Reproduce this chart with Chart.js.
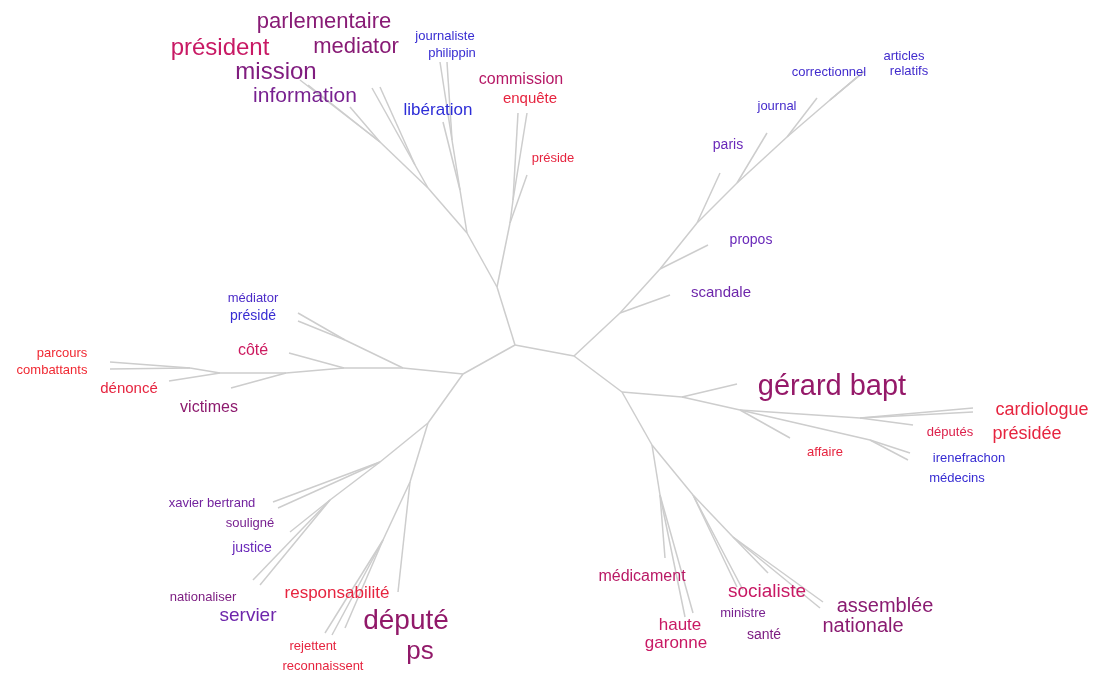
<!DOCTYPE html>
<html>
<head>
<meta charset="utf-8">
<script src="https://cdn.jsdelivr.net/npm/chart.js@4"></script>
<style>
  html, body { margin: 0; padding: 0; background: #fff; }
  #wrap { width: 1098px; height: 677px; }
</style>
</head>
<body>
<div id="wrap"><canvas id="tree"></canvas></div>
<script>
// tree nodes (layout units), parent index -1 = root
const nodeX = [515, 574, 497, 463, 620, 622,
  510, 527, 513, 518, 527, 467, 460, 443, 452, 440, 447, 428, 415, 372, 380, 380, 300, 308, 350,
  403, 345, 298, 298, 344, 289, 286, 231, 220, 169, 190, 110, 110,
  428, 380, 273, 278, 330, 290, 253, 260, 410, 398, 383, 325, 332, 345,
  670, 660, 708, 697, 720, 737, 767, 787, 817, 830, 857, 861, 865,
  682, 737, 740, 790, 870, 910, 908, 860, 913, 973, 973,
  652, 660, 665, 685, 693, 693, 737, 743, 733, 768, 823, 820];
const nodeY = [345, 356, 287, 374, 313, 392,
  223, 175, 200, 113, 113, 233, 190, 122, 140, 62, 62, 188, 165, 88, 87, 142, 80, 85, 107,
  368, 340, 313, 321, 368, 353, 373, 388, 373, 381, 368, 362, 369,
  423, 462, 502, 508, 500, 532, 580, 585, 482, 592, 540, 633, 635, 628,
  295, 269, 245, 223, 173, 183, 133, 137, 98, 100, 77, 74, 71,
  397, 384, 410, 438, 440, 453, 460, 418, 425, 408, 412,
  445, 495, 558, 617, 613, 495, 587, 590, 537, 573, 602, 608];
const nodeParent = [-1, 0, 0, 0, 1, 1,
  2, 6, 6, 8, 8, 2, 11, 12, 12, 14, 14, 11, 17, 18, 18, 17, 21, 21, 21,
  3, 25, 26, 26, 25, 29, 29, 31, 31, 33, 33, 35, 35,
  3, 38, 39, 39, 39, 42, 42, 42, 38, 46, 46, 48, 48, 48,
  4, 4, 53, 53, 55, 55, 57, 57, 59, 59, 61, 61, 61,
  5, 65, 65, 67, 67, 69, 69, 67, 72, 72, 72,
  5, 76, 77, 77, 77, 76, 81, 81, 81, 84, 84, 84];

// words: position, weight (font px) and tone (0 blue .. 1 red)
const words = ["parlementaire", "président", "mediator", "mission", "information",
  "journaliste", "philippin", "libération", "commission", "enquête", "préside",
  "correctionnel", "articles", "relatifs", "journal", "paris", "propos", "scandale",
  "médiator", "présidé", "côté", "parcours", "combattants", "dénoncé", "victimes",
  "xavier bertrand", "souligné", "justice", "nationaliser", "servier", "responsabilité",
  "député", "ps", "rejettent", "reconnaissent",
  "gérard bapt", "cardiologue", "présidée", "députés", "affaire", "irenefrachon", "médecins",
  "médicament", "haute", "garonne", "socialiste", "ministre", "santé", "assemblée", "nationale"];
const wordX = [324, 220, 356, 276, 305,
  445, 452, 438, 521, 530, 553,
  829, 904, 909, 777, 728, 751, 721,
  253, 253, 253, 62, 52, 129, 209,
  212, 250, 252, 203, 248, 337,
  406, 420, 313, 323,
  832, 1042, 1027, 950, 825, 969, 957,
  642, 680, 676, 767, 743, 764, 885, 863];
const wordY = [22, 48, 47, 72, 96,
  36, 53, 110, 80, 99, 158,
  72, 56, 71, 106, 145, 240, 293,
  298, 316, 351, 353, 370, 389, 408,
  503, 523, 548, 597, 616, 593,
  621, 652, 646, 666,
  387, 410, 434, 432, 452, 458, 478,
  577, 625, 643, 592, 613, 635, 606, 626];
const wordWeight = [22, 24, 22, 24, 21,
  13, 13, 17, 16, 15, 13,
  13, 13, 13, 13, 14, 14, 15,
  13, 14, 16, 13, 13, 15, 16,
  13, 13, 14, 13, 19, 17,
  28, 26, 13, 13,
  29, 18, 18, 13, 13, 13, 13,
  16, 17, 17, 19, 13, 14, 20, 20];
const wordTone = [0.58, 0.8, 0.58, 0.52, 0.45,
  0.05, 0.05, 0.0, 0.75, 0.95, 0.95,
  0.1, 0.1, 0.1, 0.12, 0.3, 0.3, 0.35,
  0.15, 0.05, 0.82, 1.0, 1.0, 0.95, 0.62,
  0.4, 0.45, 0.3, 0.5, 0.35, 0.95,
  0.65, 0.65, 0.95, 0.95,
  0.66, 0.95, 0.95, 0.9, 0.95, 0.05, 0.05,
  0.76, 0.8, 0.8, 0.8, 0.45, 0.5, 0.6, 0.6];

const toneStops = [
  [0, [45, 45, 215]], [0.3, [105, 40, 185]], [0.5, [125, 30, 130]],
  [0.65, [145, 25, 105]], [0.8, [200, 25, 100]], [1, [240, 40, 50]]
];
function toneColor(t) {
  for (let i = 1; i < toneStops.length; i++) {
    const [t1, c1] = toneStops[i];
    const [t0, c0] = toneStops[i - 1];
    if (t <= t1) {
      const f = (t - t0) / (t1 - t0);
      const c = c0.map((v, k) => Math.round(v + (c1[k] - v) * f));
      return `rgb(${c[0]},${c[1]},${c[2]})`;
    }
  }
  return "rgb(240,40,50)";
}

const datasets = [];
nodeParent.forEach((p, i) => {
  if (p < 0) return;
  datasets.push({
    data: [{ x: nodeX[p], y: nodeY[p] }, { x: nodeX[i], y: nodeY[i] }],
    showLine: true,
    borderColor: "#cdcdcd",
    borderWidth: 1.5,
    pointRadius: 0,
    pointHoverRadius: 0,
  });
});

const wordPlugin = {
  id: "words",
  afterDatasetsDraw(chart) {
    const { ctx, scales } = chart;
    ctx.save();
    ctx.textAlign = "center";
    ctx.textBaseline = "middle";
    words.forEach((w, i) => {
      ctx.font = `${wordWeight[i]}px "Liberation Sans", Arial, sans-serif`;
      ctx.fillStyle = toneColor(wordTone[i]);
      ctx.fillText(w, scales.x.getPixelForValue(wordX[i]), scales.y.getPixelForValue(wordY[i]));
    });
    ctx.restore();
  },
};

new Chart(document.getElementById("tree"), {
  type: "scatter",
  data: { datasets },
  options: {
    responsive: true,
    maintainAspectRatio: false,
    animation: false,
    layout: { padding: 0 },
    plugins: { legend: { display: false }, tooltip: { enabled: false } },
    scales: {
      x: { type: "linear", min: 0, max: 1098, display: false },
      y: { type: "linear", min: 0, max: 677, reverse: true, display: false },
    },
  },
  plugins: [wordPlugin],
});
</script>
</body>
</html>
